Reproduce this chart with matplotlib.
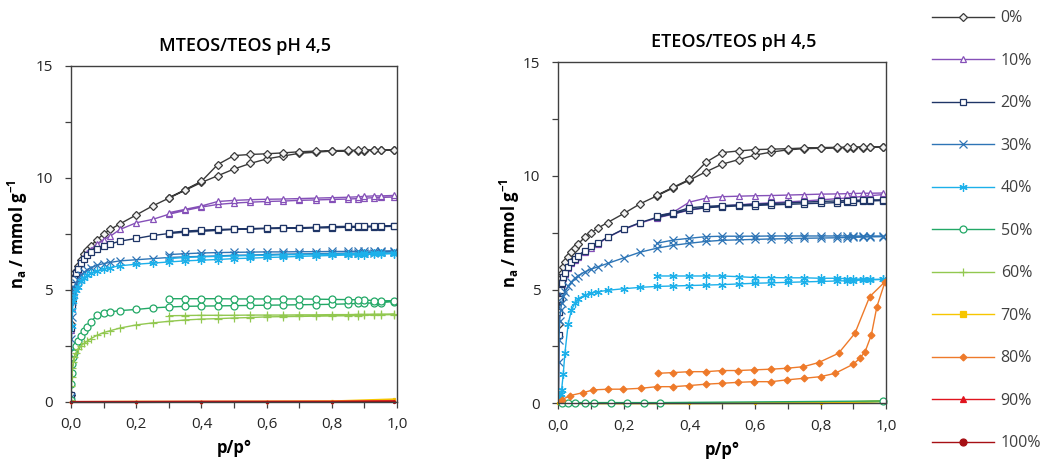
import matplotlib
matplotlib.use('Agg')
import matplotlib.pyplot as plt
from matplotlib.lines import Line2D
from matplotlib.ticker import MultipleLocator, FuncFormatter

plt.rcParams['font.family'] = ['Open Sans', 'DejaVu Sans']

# =========================
# data
# =========================

labels = ['0%', '10%', '20%', '30%', '40%', '50%', '60%', '70%', '80%', '90%', '100%']

# shared relative-pressure grids for adsorption / desorption branches
p_ads = [0.0, 0.001, 0.002, 0.004, 0.007, 0.01, 0.015, 0.02, 0.03, 0.04, 0.05, 0.06,
         0.08, 0.1, 0.12, 0.15, 0.2, 0.25, 0.3, 0.35, 0.4, 0.45, 0.5, 0.55, 0.6,
         0.65, 0.7, 0.75, 0.8, 0.85, 0.88, 0.9, 0.93, 0.95, 0.99]
p_des = [0.99, 0.95, 0.93, 0.9, 0.88, 0.85, 0.8, 0.75, 0.7, 0.65, 0.6, 0.55, 0.5,
         0.45, 0.4, 0.35, 0.3]
p_zero = [0.0, 0.2, 0.4, 0.6, 0.8, 0.99]

# --- MTEOS/TEOS ---
m_ads_0 = [0.3, 3.5, 4.5, 5.0, 5.4, 5.6, 5.85, 6.05, 6.35, 6.6, 6.8, 6.95, 7.25, 7.5, 7.7,
           7.95, 8.35, 8.75, 9.1, 9.45, 9.8, 10.1, 10.4, 10.65, 10.85, 10.98, 11.1, 11.15,
           11.2, 11.2, 11.22, 11.22, 11.23, 11.24, 11.25]
m_des_0 = [11.26, 11.26, 11.25, 11.25, 11.24, 11.23, 11.22, 11.2, 11.17, 11.12, 11.08,
           11.05, 11.0, 10.6, 9.85, 9.48, 9.12]
m_ads_10 = [0.3, 3.2, 4.2, 4.8, 5.2, 5.45, 5.7, 5.9, 6.2, 6.45, 6.65, 6.8, 7.05, 7.25, 7.4,
            7.7, 8.0, 8.15, 8.38, 8.55, 8.7, 8.82, 8.88, 8.92, 8.95, 8.97, 9.0, 9.02, 9.04,
            9.06, 9.08, 9.1, 9.12, 9.13, 9.15]
m_des_10 = [9.22, 9.2, 9.2, 9.18, 9.16, 9.14, 9.12, 9.1, 9.08, 9.06, 9.05, 9.03, 9.0, 8.95,
            8.75, 8.6, 8.45]
m_ads_20 = [0.3, 3.3, 4.3, 4.9, 5.3, 5.5, 5.75, 5.95, 6.2, 6.4, 6.55, 6.7, 6.85, 6.97, 7.05,
            7.18, 7.3, 7.43, 7.52, 7.58, 7.62, 7.66, 7.7, 7.72, 7.74, 7.75, 7.76, 7.77, 7.78,
            7.8, 7.8, 7.81, 7.82, 7.83, 7.84]
m_des_20 = [7.86, 7.86, 7.85, 7.85, 7.84, 7.84, 7.83, 7.8, 7.78, 7.77, 7.76, 7.74, 7.72,
            7.7, 7.67, 7.63, 7.56]
m_ads_30 = [0.2, 2.8, 3.8, 4.5, 4.9, 5.1, 5.3, 5.45, 5.65, 5.8, 5.9, 6.0, 6.1, 6.18, 6.23,
            6.3, 6.35, 6.4, 6.45, 6.48, 6.5, 6.52, 6.55, 6.56, 6.58, 6.6, 6.61, 6.62, 6.63,
            6.64, 6.65, 6.66, 6.67, 6.68, 6.7]
m_des_30 = [6.75, 6.74, 6.74, 6.73, 6.73, 6.72, 6.72, 6.71, 6.71, 6.7, 6.7, 6.69, 6.68,
            6.67, 6.65, 6.62, 6.58]
m_ads_40 = [0.1, 2.3, 3.4, 4.1, 4.5, 4.75, 5.0, 5.15, 5.4, 5.55, 5.65, 5.75, 5.85, 5.95,
            6.0, 6.08, 6.15, 6.2, 6.25, 6.3, 6.33, 6.36, 6.4, 6.42, 6.45, 6.47, 6.5, 6.52,
            6.54, 6.56, 6.57, 6.58, 6.6, 6.6, 6.62]
m_des_40 = [6.65, 6.64, 6.64, 6.63, 6.62, 6.62, 6.6, 6.59, 6.58, 6.57, 6.55, 6.54, 6.52,
            6.5, 6.48, 6.45, 6.4]
m_ads_50 = [0.1, 0.8, 1.3, 1.7, 2.0, 2.2, 2.5, 2.7, 2.95, 3.15, 3.35, 3.55, 3.9, 3.98, 4.02,
            4.08, 4.13, 4.2, 4.24, 4.27, 4.28, 4.29, 4.3, 4.31, 4.32, 4.33, 4.34, 4.35,
            4.36, 4.38, 4.4, 4.41, 4.42, 4.44, 4.48]
m_des_50 = [4.52, 4.52, 4.53, 4.55, 4.56, 4.57, 4.58, 4.59, 4.6, 4.6, 4.6, 4.6, 4.6, 4.61,
            4.61, 4.61, 4.61]
m_ads_60 = [0.1, 0.7, 1.1, 1.5, 1.8, 2.0, 2.2, 2.35, 2.5, 2.62, 2.72, 2.82, 2.98, 3.1, 3.18,
            3.3, 3.44, 3.53, 3.6, 3.66, 3.7, 3.72, 3.75, 3.77, 3.8, 3.81, 3.82, 3.83, 3.84,
            3.85, 3.86, 3.87, 3.88, 3.89, 3.9]
m_des_60 = [3.93, 3.92, 3.92, 3.91, 3.91, 3.9, 3.9, 3.89, 3.89, 3.88, 3.88, 3.88, 3.87,
            3.87, 3.87, 3.86, 3.85]
m_zero_70 = [0.0, 0.01, 0.01, 0.02, 0.03, 0.12]
m_zero_80 = [0.0, 0.01, 0.01, 0.01, 0.02, 0.05]
m_zero_90 = [0.0, 0.0, 0.01, 0.01, 0.01, 0.03]
m_zero_100 = [0.0, 0.0, 0.0, 0.01, 0.01, 0.02]

# --- ETEOS/TEOS ---
e_ads_0 = [0.3, 3.5, 4.5, 5.1, 5.5, 5.75, 6.0, 6.2, 6.45, 6.65, 6.85, 7.0, 7.3, 7.5, 7.7,
           7.95, 8.35, 8.78, 9.12, 9.47, 9.82, 10.18, 10.52, 10.72, 10.92, 11.05, 11.15,
           11.2, 11.22, 11.23, 11.24, 11.25, 11.25, 11.26, 11.27]
e_des_0 = [11.28, 11.28, 11.28, 11.27, 11.27, 11.26, 11.25, 11.23, 11.2, 11.18, 11.16,
           11.1, 11.03, 10.6, 9.85, 9.5, 9.15]
e_ads_10 = [0.2, 3.0, 4.0, 4.6, 5.0, 5.25, 5.5, 5.7, 5.95, 6.15, 6.3, 6.45, 6.65, 6.85, 7.0,
            7.3, 7.65, 7.93, 8.15, 8.32, 8.5, 8.6, 8.68, 8.73, 8.78, 8.82, 8.86, 8.9, 8.95,
            9.0, 9.03, 9.06, 9.1, 9.13, 9.18]
e_des_10 = [9.25, 9.24, 9.24, 9.23, 9.22, 9.21, 9.2, 9.18, 9.16, 9.14, 9.13, 9.11, 9.09,
            9.02, 8.85, 8.4, 8.2]
e_ads_20 = [0.2, 3.0, 4.0, 4.6, 5.0, 5.3, 5.55, 5.75, 6.0, 6.2, 6.35, 6.5, 6.7, 6.9, 7.05,
            7.3, 7.67, 7.95, 8.18, 8.33, 8.52, 8.6, 8.65, 8.68, 8.7, 8.73, 8.75, 8.78, 8.8,
            8.83, 8.85, 8.87, 8.88, 8.9, 8.92]
e_des_20 = [8.95, 8.95, 8.94, 8.93, 8.92, 8.9, 8.88, 8.85, 8.82, 8.79, 8.76, 8.72, 8.7,
            8.66, 8.6, 8.38, 8.25]
e_ads_30 = [0.1, 1.8, 2.8, 3.6, 4.1, 4.4, 4.7, 4.9, 5.15, 5.35, 5.5, 5.6, 5.78, 5.9, 6.0,
            6.15, 6.4, 6.65, 6.82, 6.95, 7.04, 7.12, 7.17, 7.19, 7.21, 7.23, 7.24, 7.26,
            7.27, 7.28, 7.29, 7.3, 7.31, 7.32, 7.33]
e_des_30 = [7.36, 7.36, 7.36, 7.36, 7.36, 7.36, 7.36, 7.36, 7.36, 7.36, 7.35, 7.35, 7.35,
            7.33, 7.26, 7.18, 7.04]
e_ads_40 = [0.05, 0.1, 0.15, 0.25, 0.4, 0.6, 1.3, 2.2, 3.5, 4.1, 4.4, 4.6, 4.75, 4.85, 4.9,
            4.97, 5.04, 5.1, 5.14, 5.16, 5.18, 5.2, 5.22, 5.25, 5.28, 5.3, 5.32, 5.34, 5.36,
            5.38, 5.39, 5.4, 5.42, 5.43, 5.45]
e_des_40 = [5.45, 5.45, 5.46, 5.47, 5.48, 5.5, 5.5, 5.52, 5.52, 5.53, 5.53, 5.57, 5.6, 5.6,
            5.6, 5.6, 5.6]
e_p_50 = [0.01, 0.03, 0.05, 0.08, 0.11, 0.16, 0.21, 0.26, 0.31, 0.99]
e_n_50 = [0.03, 0.03, 0.03, 0.03, 0.03, 0.03, 0.03, 0.03, 0.03, 0.1]
e_zero_60 = [0.0, 0.0, 0.0, 0.0, 0.0, 0.08]
e_zero_70 = [0.0, 0.0, 0.0, 0.01, 0.01, 0.1]
e_p_80_ads = [0.0, 0.01, 0.036, 0.076, 0.107, 0.153, 0.198, 0.253, 0.3, 0.35, 0.4, 0.45,
              0.5, 0.547, 0.597, 0.65, 0.697, 0.75, 0.8, 0.845, 0.9, 0.92, 0.936, 0.955,
              0.972, 0.997]
e_n_80_ads = [0.05, 0.15, 0.34, 0.47, 0.59, 0.62, 0.62, 0.66, 0.73, 0.73, 0.78, 0.84, 0.88,
              0.92, 0.95, 0.95, 1.03, 1.1, 1.17, 1.32, 1.72, 1.98, 2.27, 3.0, 4.25, 5.35]
e_p_80_des = [0.95, 0.905, 0.855, 0.794, 0.748, 0.697, 0.649, 0.597, 0.547, 0.5, 0.45,
              0.4, 0.35, 0.305]
e_n_80_des = [4.69, 3.08, 2.2, 1.79, 1.61, 1.54, 1.5, 1.47, 1.44, 1.44, 1.39, 1.39, 1.35,
              1.32]

# =========================
# styles
# =========================

styles = {
    '0%':   dict(color='#3a3a3a', marker='D', mfc='#f2f2f2', ms=4.5),
    '10%':  dict(color='#8550b8', marker='^', mfc='white', ms=5),
    '20%':  dict(color='#1f3566', marker='s', mfc='white', ms=4.5),
    '30%':  dict(color='#2e75b6', marker='x', mfc='none', ms=5.5),
    '40%':  dict(color='#1cb0ea', marker=(6, 2, 0), mfc='none', ms=6),
    '50%':  dict(color='#22a866', marker='o', mfc='white', ms=5),
    '60%':  dict(color='#92c850', marker='+', mfc='none', ms=6),
    '70%':  dict(color='#f7c600', marker='s', mfc='#f7c600', ms=5),
    '80%':  dict(color='#ee7a2a', marker='D', mfc='#ee7a2a', ms=3.5),
    '90%':  dict(color='#e0141e', marker='^', mfc='#e0141e', ms=5),
    '100%': dict(color='#a60f14', marker='o', mfc='#a60f14', ms=5),
}


def draw(ax, label, p, n, ms=None, lw=1.0, **kw):
    st = dict(styles[label])
    if ms is not None:
        st['ms'] = ms
    ax.plot(p, n, color=st['color'], marker=st['marker'], mfc=st['mfc'],
            mec=st['color'], ms=st['ms'], lw=lw, mew=0.9, **kw)


def isotherm(ax, label, n_ads, n_des):
    draw(ax, label, p_ads + p_des, n_ads + n_des)


def comma(x, pos):
    return f'{x:.1f}'.replace('.', ',')


def style_axes(ax, title):
    ax.set_xlim(0, 1.0)
    ax.set_ylim(0, 15)
    ax.xaxis.set_major_locator(MultipleLocator(0.2))
    ax.xaxis.set_minor_locator(MultipleLocator(0.1))
    ax.yaxis.set_major_locator(MultipleLocator(5))
    ax.yaxis.set_minor_locator(MultipleLocator(2.5))
    ax.xaxis.set_major_formatter(FuncFormatter(comma))
    ax.tick_params(which='both', direction='out', length=4, width=0.9,
                   color='#404040', labelsize=11, labelcolor='#262626')
    ax.tick_params(axis='x', pad=7)
    ax.tick_params(axis='y', pad=9)
    for s in ax.spines.values():
        s.set_color('#404040')
        s.set_linewidth(1.0)
    ax.set_title(title, fontsize=13, fontweight='semibold', x=0.535, pad=11)
    ax.set_xlabel('p/p°', fontsize=12, fontweight='bold')
    ax.set_ylabel(r'n$_\mathregular{a}$ / mmol g$^\mathregular{-1}$', fontsize=12,
                  fontweight='bold')


# =========================
# figure
# =========================

fig = plt.figure(figsize=(10.46, 4.63), dpi=100)
ax1 = fig.add_axes([0.0679, 0.1318, 0.3117, 0.7257])
ax2 = fig.add_axes([0.5338, 0.129, 0.3133, 0.7364])

# MTEOS/TEOS
isotherm(ax1, '0%', m_ads_0, m_des_0)
isotherm(ax1, '10%', m_ads_10, m_des_10)
isotherm(ax1, '20%', m_ads_20, m_des_20)
isotherm(ax1, '30%', m_ads_30, m_des_30)
isotherm(ax1, '40%', m_ads_40, m_des_40)
isotherm(ax1, '50%', m_ads_50, m_des_50)
isotherm(ax1, '60%', m_ads_60, m_des_60)
draw(ax1, '70%', p_zero, m_zero_70, ms=1.5, lw=1.4, clip_on=False)
draw(ax1, '80%', p_zero, m_zero_80, ms=1.5, lw=1.4, clip_on=False)
draw(ax1, '90%', p_zero, m_zero_90, ms=1.5, lw=1.6, clip_on=False)
draw(ax1, '100%', p_zero, m_zero_100, ms=1.5, lw=1.0, clip_on=False)

# ETEOS/TEOS
isotherm(ax2, '0%', e_ads_0, e_des_0)
isotherm(ax2, '10%', e_ads_10, e_des_10)
isotherm(ax2, '20%', e_ads_20, e_des_20)
isotherm(ax2, '30%', e_ads_30, e_des_30)
isotherm(ax2, '40%', e_ads_40, e_des_40)
draw(ax2, '60%', p_zero, e_zero_60, ms=1.5, lw=1.4, clip_on=False)
draw(ax2, '70%', p_zero, e_zero_70, ms=1.5, lw=1.4, clip_on=False)
draw(ax2, '50%', e_p_50, e_n_50, clip_on=False)
draw(ax2, '80%', e_p_80_ads + e_p_80_des, e_n_80_ads + e_n_80_des)

style_axes(ax1, 'MTEOS/TEOS pH 4,5')
style_axes(ax2, 'ETEOS/TEOS pH 4,5')
ax1.yaxis.set_label_coords(-0.127, 0.5)
ax2.yaxis.set_label_coords(-0.112, 0.5)
ax1.xaxis.set_label_coords(0.5, -0.11)
ax2.xaxis.set_label_coords(0.5, -0.11)

# legend
handles = []
for lab in labels:
    st = styles[lab]
    handles.append(Line2D([], [], color=st['color'], marker=st['marker'], mfc=st['mfc'],
                          mec=st['color'], ms=st['ms'], lw=1.0, mew=0.9))
fig.legend(handles, labels, loc='upper left', bbox_to_anchor=(0.891, 0.978),
           frameon=False, fontsize=11.5, handlelength=3.9, handletextpad=0.4,
           labelspacing=1.66, borderpad=0, borderaxespad=0, labelcolor='#404040')

fig.savefig('out.png', dpi=100)
